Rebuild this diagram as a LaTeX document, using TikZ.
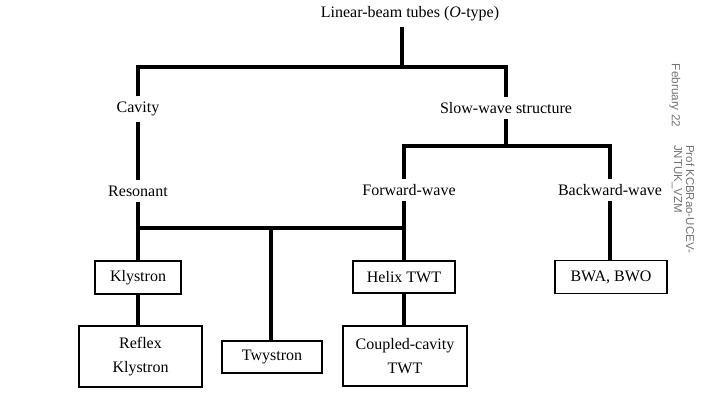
\documentclass[tikz,border=0pt]{standalone}
\usepackage{fontspec}
\setmainfont{Liberation Serif}
\setsansfont{Liberation Sans}

\begin{document}
\begin{tikzpicture}[x=0.75pt,y=-0.75pt,
lbl/.style={rectangle, inner sep=4pt, font=\fontsize{12}{14}\selectfont},
tbox/.style={rectangle, draw, line width=1.4pt, align=center, inner sep=2pt, font=\fontsize{12}{18}\selectfont},
tline/.style={line width=2.3pt},
wmark/.style={rotate=-90, align=left, text=black!55, inner sep=0pt}]
\useasboundingbox (0,0) rectangle (720,405);

\draw (410,14) node[lbl] (LB) {Linear-beam tubes (\textit{O}-type)};
\draw (138,109) node[lbl] (CAV) {Cavity};
\draw (506,108) node[lbl] (SW) {Slow-wave structure};
\draw (138,191) node[lbl] (RES) {Resonant};
\draw (409,190) node[lbl] (FW) {Forward-wave};
\draw (610,190) node[lbl] (BW) {Backward-wave};

\draw (138,277.5) node[tbox, minimum width=64pt, minimum height=24.75pt] (KLY) {Klystron};
\draw (404,277) node[tbox, minimum width=77pt, minimum height=24pt] (HEL) {Helix TWT};
\draw (611,277) node[tbox, minimum width=84pt, minimum height=24.75pt] (BWA) {BWA, BWO};
\draw (140.5,356.5) node[tbox, minimum width=92pt, minimum height=46pt] (RK) {Reflex\\Klystron};
\draw (272,357) node[tbox, minimum width=75pt, minimum height=24pt] (TWY) {Twystron};
\draw (405,356) node[tbox, minimum width=93pt, minimum height=45pt] (CC) {Coupled-cavity\\TWT};

\coordinate (J1) at (402,67);
\coordinate (J2) at (506,146);
\coordinate (J3) at (271,228);
\coordinate (JF) at (404,146);

\draw[tline] (LB.south -| J1)--(J1);
\draw[tline] (CAV) |- (J1) -| (SW);
\draw[tline] (SW)--(J2);
\draw[tline] (FW.north -| JF) |- (J2) -| (BW);
\draw[tline] (CAV)--(RES);
\draw[tline] (RES)--(RES |- J3);
\draw[tline] (KLY) |- (J3) -| (HEL);
\draw[tline] (FW.south -| HEL)--(HEL);
\draw[tline] (J3)--(J3 |- TWY.north);
\draw[tline] (BW)--(BW |- BWA.north);
\draw[tline] (KLY)--(KLY |- RK.north);
\draw[tline] (HEL)--(HEL |- CC.north);

\draw (675,95.5) node[wmark, font=\sffamily\fontsize{8.8}{9}\selectfont] (DATE) {February 22};
\draw (683,199) node[wmark, font=\sffamily\fontsize{8.6}{9}\selectfont] (PROF) {Prof KCBRao-UCEV-\\JNTUK\_VZM};
\end{tikzpicture}
\end{document}
